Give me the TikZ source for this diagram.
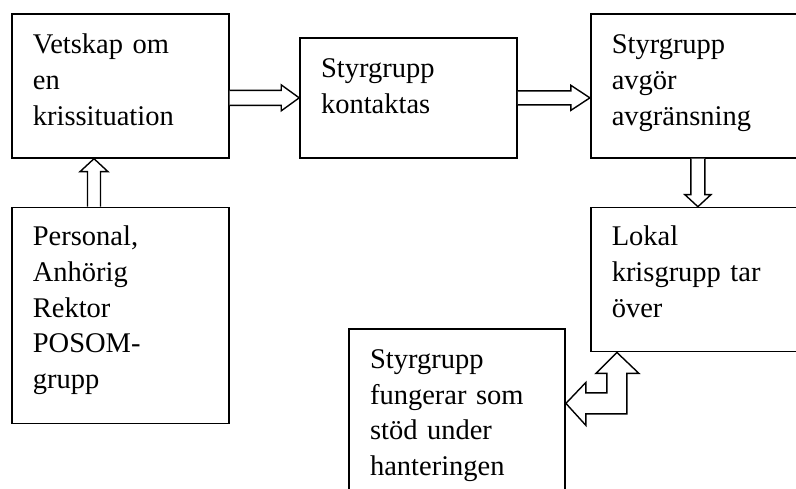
\documentclass[tikz,border=0pt]{standalone}
\usepackage{fontspec}
\setmainfont{Liberation Serif}
\usepackage{tikz}
\usetikzlibrary{positioning, calc}
\newcommand{\boxfont}{\fontsize{28.5}{35.8}\selectfont}
\tikzset{box/.style = {
  rectangle, draw, line width=1.7pt,
  inner xsep=21pt, inner ysep=0pt,
  text width=175pt, align=left,
  text height=40pt,
  font=\boxfont
  }}
\tikzset{hollow/.style = {
  draw, fill=white, line width=1.4pt, line join=miter
  }}

\begin{document}
\begin{tikzpicture}[x=1pt, y=-1pt]
\useasboundingbox (0,0) rectangle (796,489);
\clip (0,0) rectangle (796,489);

% NODES
\node (vetskap) [box, anchor=north west, text depth=104pt] at (11,13) {Vetskap om\\en\\krissituation};
\node (kontakt) [box, right=69.5pt of vetskap.south east, anchor=south west, text depth=80pt] {Styrgrupp\\kontaktas};
\node (avgor) [box, right=72pt of kontakt.south east, anchor=south west, text depth=104pt, text width=200pt] {Styrgrupp\\avgör\\avgränsning};

\node (personal) [box, below=48pt of vetskap.south west, anchor=north west, text height=38pt, text depth=178pt] {Personal,\\Anhörig\\Rektor\\POSOM-\\grupp};
\node (lokal) [box, below=48pt of avgor.south west, anchor=north west, text height=38pt, text depth=106pt, text width=200pt] {Lokal\\krisgrupp tar\\över};
\node (stod) [box, above left=24pt and 24pt of lokal.south west, anchor=north east, text height=39pt, text depth=161pt, text width=174pt] {Styrgrupp\\fungerar som\\stöd under\\hanteringen};

% arrows
\draw [hollow] ($(vetskap.east |- kontakt.west)+(0,-7.5)$) -- ($(kontakt.west)+(-18,-7.5)$) -- ($(kontakt.west)+(-18,-13)$)
  -- (kontakt.west) -- ($(kontakt.west)+(-18,13)$) -- ($(kontakt.west)+(-18,7.5)$) -- ($(vetskap.east |- kontakt.west)+(0,7.5)$);

\draw [hollow] ($(kontakt.east)+(0,-7)$) -- ($(avgor.west |- kontakt.east)+(-19,-7)$) -- ($(avgor.west |- kontakt.east)+(-19,-12.5)$)
  -- (avgor.west |- kontakt.east) -- ($(avgor.west |- kontakt.east)+(-19,12.5)$) -- ($(avgor.west |- kontakt.east)+(-19,7)$) -- ($(kontakt.east)+(0,7)$);

\coordinate (upTip) at ($(vetskap.south west)+(83,0)$);
\draw [hollow] ($(upTip |- personal.north)+(-6.5,0)$) -- ($(upTip)+(-6.5,13)$) -- ($(upTip)+(-14,13)$)
  -- (upTip) -- ($(upTip)+(14,13)$) -- ($(upTip)+(6.5,13)$) -- ($(upTip |- personal.north)+(6.5,0)$);

\coordinate (downTip) at ($(lokal.north west)+(108,0)$);
\draw [hollow] ($(downTip |- avgor.south)+(-7,0)$) -- ($(downTip)+(-7,-12)$) -- ($(downTip)+(-13,-12)$)
  -- (downTip) -- ($(downTip)+(13,-12)$) -- ($(downTip)+(7,-12)$) -- ($(downTip |- avgor.south)+(7,0)$);

\coordinate (lokalTip) at ($(lokal.south west)+(27,0)$);
\coordinate (stodTip) at ($(stod.north east)+(0,75)$);
\draw [hollow] (lokalTip) -- ($(lokalTip)+(22,21)$) -- ($(lokalTip)+(10,21)$) -- ($(lokalTip |- stodTip)+(10,10.5)$)
  -- ($(stodTip)+(20,10.5)$) -- ($(stodTip)+(20,22)$) -- (stodTip) -- ($(stodTip)+(20,-21)$) -- ($(stodTip)+(20,-10.5)$)
  -- ($(lokalTip |- stodTip)+(-10,-10.5)$) -- ($(lokalTip)+(-10,21)$) -- ($(lokalTip)+(-21,21)$) -- cycle;
\end{tikzpicture}
\end{document}
